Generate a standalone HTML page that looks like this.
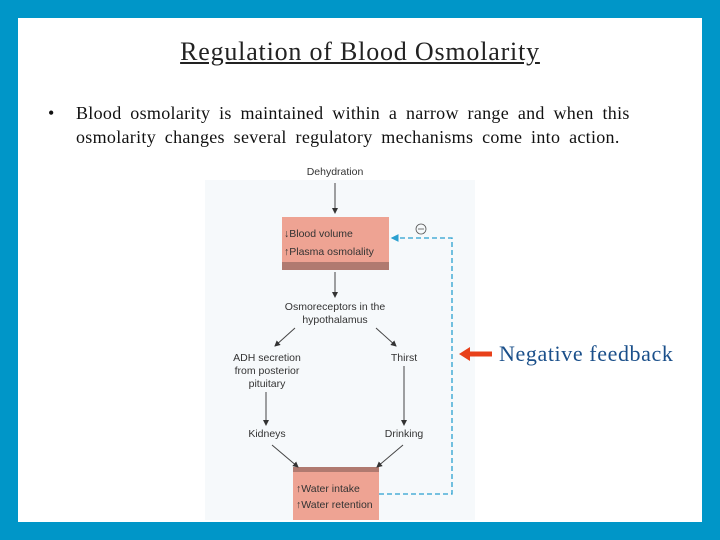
<!DOCTYPE html>
<html><head><style>
body{margin:0;width:720px;height:540px;background:#0096c8;position:relative;overflow:hidden;font-family:"Liberation Serif",serif}
#w{position:absolute;left:18px;top:18px;width:684px;height:504px;background:#fff}
.t{position:absolute;font-family:"Liberation Sans",sans-serif;font-size:10.5px;color:#333;text-align:center;line-height:13px}
</style></head><body>
<div id="w"></div>
<div style="position:absolute;left:0;width:720px;top:37px;text-align:center;font-size:26px;letter-spacing:0.8px;text-decoration:underline;color:#222">Regulation of Blood Osmolarity</div>
<div style="position:absolute;left:48px;top:101px;font-size:18px;color:#111;line-height:24px">•</div>
<div style="position:absolute;left:76px;top:101px;width:565px;font-size:18px;letter-spacing:0.3px;word-spacing:4px;color:#111;line-height:24px">Blood osmolarity is maintained within a narrow range and when this osmolarity changes several regulatory mechanisms come into action.</div>
<div style="position:absolute;left:205px;top:180px;width:270px;height:340px;background:#f6f9fb"></div>
<div style="position:absolute;left:282px;top:217px;width:107px;height:46px;background:#eea393"></div>
<div style="position:absolute;left:282px;top:262px;width:107px;height:8px;background:#b07a70"></div>
<div style="position:absolute;left:293px;top:467px;width:86px;height:5px;background:#b07a70"></div>
<div style="position:absolute;left:293px;top:472px;width:86px;height:48px;background:#eea393"></div>
<svg width="720" height="540" style="position:absolute;left:0;top:0">
<defs><marker id="a" markerWidth="6" markerHeight="6" refX="5" refY="3" orient="auto"><path d="M0,0L6,3L0,6z" fill="#333"/></marker>
<marker id="b" markerWidth="6" markerHeight="6" refX="5" refY="3" orient="auto"><path d="M0,0L6,3L0,6z" fill="#2aa0d0"/></marker></defs>
<g stroke="#444" stroke-width="1" marker-end="url(#a)">
<line x1="335" y1="183" x2="335" y2="213"/>
<line x1="335" y1="272" x2="335" y2="297"/>
<line x1="295" y1="328" x2="275" y2="346"/>
<line x1="376" y1="328" x2="396" y2="346"/>
<line x1="266" y1="392" x2="266" y2="425"/>
<line x1="404" y1="366" x2="404" y2="425"/>
<line x1="272" y1="445" x2="298" y2="467"/>
<line x1="403" y1="445" x2="377" y2="467"/>
</g>
<polyline points="379,494 452,494 452,238 392,238" fill="none" stroke="#2aa0d0" stroke-width="1.3" stroke-dasharray="5,3" marker-end="url(#b)"/>
<circle cx="421" cy="229" r="5" fill="none" stroke="#555" stroke-width="0.8"/>
<line x1="418" y1="229" x2="424" y2="229" stroke="#555" stroke-width="0.8"/>
<line x1="492" y1="354" x2="468" y2="354" stroke="#e8401a" stroke-width="5"/>
<path d="M459,354L470,347L470,361z" fill="#e8401a"/>
</svg>
<div class="t" style="left:285px;top:166px;width:100px">Dehydration</div>
<div class="t" style="left:284px;top:225px;width:105px;text-align:left;line-height:18px">↓Blood volume<br>↑Plasma osmolality</div>
<div class="t" style="left:270px;top:301px;width:130px">Osmoreceptors in the<br>hypothalamus</div>
<div class="t" style="left:220px;top:352px;width:94px">ADH secretion<br>from posterior<br>pituitary</div>
<div class="t" style="left:380px;top:352px;width:48px">Thirst</div>
<div class="t" style="left:235px;top:428px;width:64px">Kidneys</div>
<div class="t" style="left:374px;top:428px;width:60px">Drinking</div>
<div class="t" style="left:296px;top:481px;width:84px;text-align:left;line-height:16px">↑Water intake<br>↑Water retention</div>
<div style="position:absolute;left:499px;top:341px;font-size:22px;letter-spacing:0.6px;color:#1a4f8a">Negative feedback</div>
</body></html>
